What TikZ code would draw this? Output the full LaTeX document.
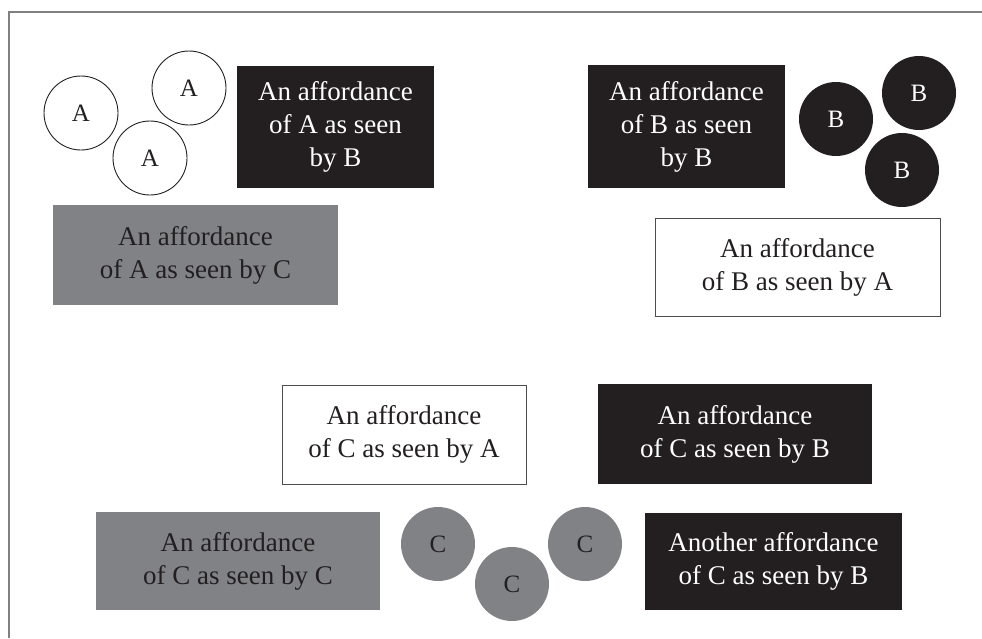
\documentclass[tikz,border=0pt]{standalone}
\usepackage{fontspec}
\setmainfont{Liberation Serif}
\usepackage{tikz}
\definecolor{inkblack}{HTML}{231F20}
\definecolor{inkgray}{HTML}{808285}
\definecolor{framegray}{HTML}{808080}

\begin{document}
\begin{tikzpicture}[x=1pt,y=-1pt,
  every node/.style={font=\fontsize{27}{33}\selectfont,align=center,inner sep=0pt},
  darkbox/.style={rectangle,fill=inkblack,text=white},
  greybox/.style={rectangle,fill=inkgray,text=inkblack},
  openbox/.style={rectangle,draw=inkblack!80,line width=1pt,fill=white,text=inkblack},
  acirc/.style={circle,draw=inkblack,line width=0.9pt,minimum size=74pt,text=inkblack,font=\fontsize{25}{30}\selectfont},
  bcirc/.style={circle,fill=inkblack,minimum size=74pt,text=white,font=\fontsize{25}{30}\selectfont},
  ccirc/.style={circle,fill=inkgray,minimum size=74pt,text=inkblack,font=\fontsize{25}{30}\selectfont}]

\useasboundingbox (0,0) rectangle (982,638);

% frame
\coordinate (fbot) at (9,638);
\coordinate (fcorner) at (9,12);
\coordinate (fright) at (982,12);
\draw[framegray,line width=1.5pt] (fbot) -- (fcorner) -- (fright);

% A
\node[acirc] (a1) at (81,113) {A};
\node[acirc] (a2) at (189,88) {A};
\node[acirc] (a3) at (150,158) {A};
\node[darkbox,minimum width=197pt,minimum height=122pt] (abyb) at (335.5,127) {An affordance\\of A as seen\\by B};
\node[greybox,minimum width=285pt,minimum height=100pt] (abyc) at (195.5,255) {An affordance\\of A as seen by C};

% B
\node[darkbox,minimum width=197pt,minimum height=123pt] (bbyb) at (686.5,126.5) {An affordance\\of B as seen\\by B};
\node[bcirc] (b1) at (836,119) {B};
\node[bcirc] (b2) at (919,93) {B};
\node[bcirc] (b3) at (902,170) {B};
\node[openbox,minimum width=285pt,minimum height=98pt] (bbya) at (797.5,267) {An affordance\\of B as seen by A};

% C
\node[openbox,minimum width=244pt,minimum height=99pt] (cbya) at (404,434.5) {An affordance\\of C as seen by A};
\node[darkbox,minimum width=274pt,minimum height=100pt] (cbyb) at (735,434) {An affordance\\of C as seen by B};
\node[greybox,minimum width=284pt,minimum height=98pt] (cbyc) at (238,561) {An affordance\\of C as seen by C};
\node[ccirc] (c1) at (438,544) {C};
\node[ccirc] (c2) at (512,584) {C};
\node[ccirc] (c3) at (585,544) {C};
\node[darkbox,minimum width=257pt,minimum height=97pt] (cbybb) at (773.5,561.5) {Another affordance\\of C as seen by B};

\end{tikzpicture}
\end{document}
